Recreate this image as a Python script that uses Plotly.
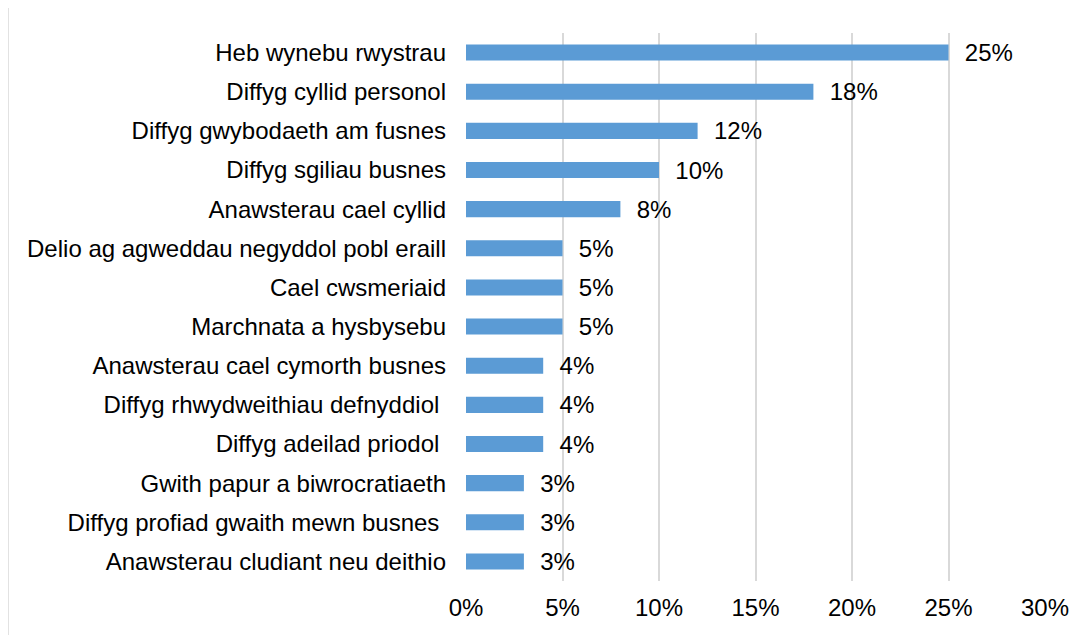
import plotly.graph_objects as go

# rhwystrau a wynebwyd (%)
categories = [
    "Heb wynebu rwystrau",
    "Diffyg cyllid personol",
    "Diffyg gwybodaeth am fusnes",
    "Diffyg sgiliau busnes",
    "Anawsterau cael cyllid",
    "Delio ag agweddau negyddol pobl eraill",
    "Cael cwsmeriaid",
    "Marchnata a hysbysebu",
    "Anawsterau cael cymorth busnes",
    "Diffyg rhwydweithiau defnyddiol\u00a0",
    "Diffyg adeilad priodol\u00a0",
    "Gwith papur a biwrocratiaeth",
    "Diffyg profiad gwaith mewn busnes\u00a0",
    "Anawsterau cludiant neu deithio",
]
values = [25, 18, 12, 10, 8, 5, 5, 5, 4, 4, 4, 3, 3, 3]
labels = ["\u00a0\u00a0%d%%" % v for v in values]

x_ticks = [0, 5, 10, 15, 20, 25, 30]
x_ticktext = ["0%", "5%", "10%", "15%", "20%", "25%", "30%"]

font_main = dict(family="Liberation Sans, Arial, sans-serif", size=24, color="#000000")

bars = go.Bar(
    x=values,
    y=categories,
    orientation="h",
    marker=dict(color="#5B9BD5", line=dict(width=0)),
    text=labels,
    textposition="outside",
    textfont=font_main,
    constraintext="none",
    cliponaxis=False,
    hoverinfo="x+y",
)

# page body has an 8px margin, so the figure is 8px smaller than the window
layout = go.Layout(
    width=1080,
    height=627,
    paper_bgcolor="white",
    plot_bgcolor="white",
    margin=dict(l=458, r=43, t=25, b=54),
    font=font_main,
    showlegend=False,
    bargap=0.59,
    xaxis=dict(
        range=[0, 30],
        tickvals=x_ticks,
        ticktext=x_ticktext,
        showgrid=True,
        gridcolor="#D9D9D9",
        gridwidth=1.5,
        zeroline=False,
        showline=False,
        ticks="",
        ticklabelstandoff=10,
        tickfont=font_main,
        automargin=False,
        fixedrange=True,
    ),
    yaxis=dict(
        autorange="reversed",
        showgrid=False,
        zeroline=False,
        showline=False,
        ticks="",
        ticklabelstandoff=19,
        tickfont=font_main,
        automargin=False,
        fixedrange=True,
    ),
    shapes=[
        # border of the chart area (only top/left visible)
        dict(type="rect", xref="paper", yref="paper",
             x0=-0.791, x1=1.3, y0=-0.3, y1=1.051,
             line=dict(color="#D9D9D9", width=1.5), layer="below"),
    ],
)

fig = go.Figure(data=[bars], layout=layout)
fig.write_html("out.html")
